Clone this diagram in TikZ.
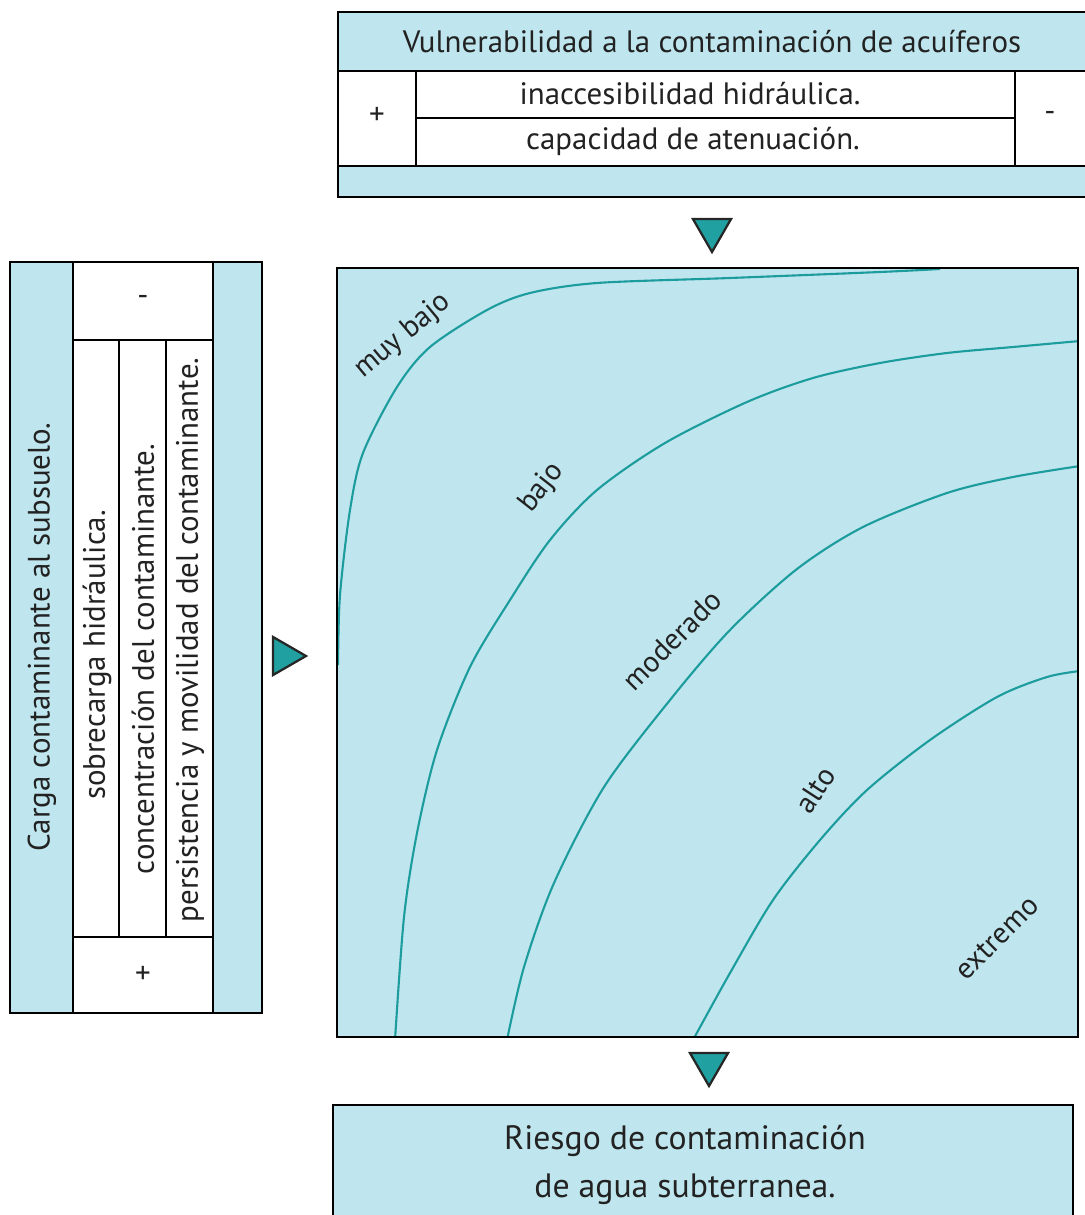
\documentclass[tikz,border=0pt]{standalone}
\usepackage{fontspec}
\setmainfont{PT Sans}
\usetikzlibrary{shapes.geometric}
\definecolor{panel}{HTML}{BFE6EE}
\definecolor{curve}{HTML}{1C9C9C}
\definecolor{marker}{HTML}{20A0A0}
\definecolor{ink}{HTML}{222222}

\begin{document}
\begin{tikzpicture}[
  x=0.025cm, y=-0.025cm,
  frame/.style={line width=2pt, draw=black},
  label/.style={font=\fontsize{22}{33}\selectfont, text=ink, inner sep=0pt},
  zone/.style={font=\fontsize{21}{25}\selectfont, text=ink, inner sep=0pt},
  isoline/.style={curve, line width=1.5pt},
  pointer/.style={regular polygon, regular polygon sides=3, draw=black!85,
                  line width=1.6pt, fill=marker, minimum size=1.1cm, inner sep=0pt},
]
\useasboundingbox (0,0) rectangle (1084,1215);

% vulnerability table
\fill[panel] (338,12) rectangle (1090,197);
\fill[white] (338,71) rectangle (1090,166);
\draw[frame] (338,71) -- (1090,71) (338,166) -- (1090,166)
  (416,71) -- (416,166) (1015,71) -- (1015,166) (416,118) -- (1015,118);
\draw[frame] (1090,12) -- (338,12) -- (338,197) -- (1090,197);

\node[label] (vulner) at (712,42) {Vulnerabilidad a la contaminación de acuíferos};
\node[label] (vplus) at (377,116) {+};
\node[label] (vminus) at (1050,116) {-};
\node[label] (inacc) at (690,94) {inaccesibilidad hidráulica.};
\node[label] (atenu) at (693,141) {capacidad de atenuación.};

% contaminant load table
\fill[panel] (10,262) rectangle (262,1013);
\fill[white] (73,262) rectangle (213,1013);
\draw[frame] (10,262) rectangle (262,1013);
\draw[frame] (73,262) -- (73,1013) (213,262) -- (213,1013)
  (73,340) -- (213,340) (73,937) -- (213,937)
  (119,340) -- (119,937) (166,340) -- (166,937);

\node[label, rotate=90] (carga) at (42,637) {Carga contaminante al subsuelo.};
\node[label, rotate=90] (sobre) at (97,655) {sobrecarga hidráulica.};
\node[label, rotate=90] (concen) at (143,659) {concentración del contaminante.};
\node[label, rotate=90] (persis) at (190,640) {persistencia y movilidad del contaminante.};
\node[label] (cminus) at (143,300) {-};
\node[label] (cplus) at (143,975) {+};

% risk chart
\fill[panel] (337,268) rectangle (1078,1037);
\begin{scope}
  \clip (337,268) rectangle (1078,1037);
  \draw[isoline] plot[smooth] coordinates {(338,665) (340,595) (350,510) (363,453)
    (397,387) (430,347) (487,310) (530,293) (597,283) (730,278) (880,272) (940,269)};
  \draw[isoline] plot[smooth] coordinates {(395,1040) (404,917) (417,833) (437,750)
    (470,667) (510,600) (550,540) (597,490) (665,443) (747,402) (813,378)
    (880,363) (947,353) (1013,347) (1080,341)};
  \draw[isoline] plot[smooth] coordinates {(507,1040) (524,967) (554,883) (604,787)
    (670,700) (730,630) (797,569) (863,527) (947,493) (1013,477) (1080,466)};
  \draw[isoline] plot[smooth] coordinates {(693,1040) (730,973) (773,900) (820,840)
    (867,790) (930,740) (997,697) (1047,677) (1080,671)};
\end{scope}
\draw[frame] (337,268) rectangle (1078,1037);

\node[zone, rotate=40] (muybajo) at (403,336) {muy bajo};
\node[zone, rotate=52] (bajo) at (542,488) {bajo};
\node[zone, rotate=45] (moder) at (672,640) {moderado};
\node[zone, rotate=57] (alto) at (815,790) {alto};
\node[zone, rotate=45] (extremo) at (997,938) {extremo};

% result
\fill[panel] (333,1105) rectangle (1073,1230);
\draw[frame] (333,1230) -- (333,1105) -- (1073,1105) -- (1073,1230);
\node[label, font=\fontsize{24}{34}\selectfont, align=center] (riesgo) at (685,1165)
  {Riesgo de contaminación\\de agua subterranea.};

% flow markers
\node[pointer, shape border rotate=180] (pvul) at (712,230) {};
\node[pointer, shape border rotate=-90] (pcar) at (284,656) {};
\node[pointer, shape border rotate=180] (pres) at (709,1064) {};
\end{tikzpicture}
\end{document}
